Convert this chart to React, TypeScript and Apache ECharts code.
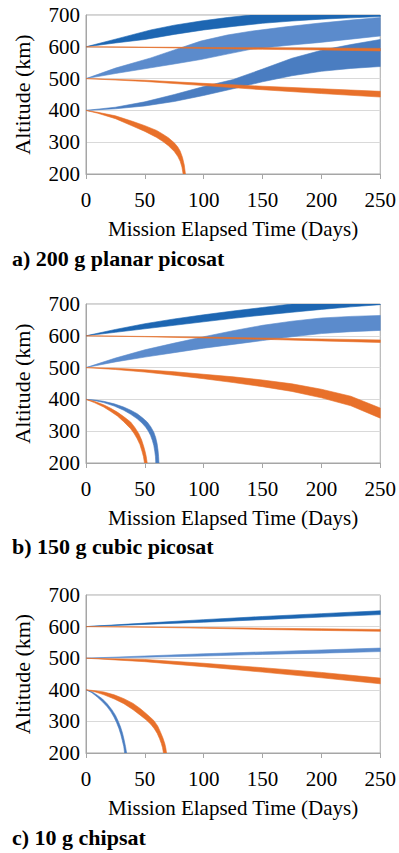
import React, { useEffect, useRef } from "react";
import * as echarts from "echarts";

type Pt = [number, number];

const X_TICKS = [0, 50, 100, 150, 200, 250];
const Y_TICKS = [200, 300, 400, 500, 600, 700];
const X_NAME = "Mission Elapsed Time (Days)";
const Y_NAME = "Altitude (km)";
const CAPTIONS = ["a) 200 g planar picosat", "b) 150 g cubic picosat", "c) 10 g chipsat"];

// ---------- Panel a) 200 g planar picosat ----------
const A_DARK_UP: Pt[] = [[0, 600], [25, 624], [55, 653], [75, 668], [97.5, 681], [120, 692], [140, 700], [200, 720], [250, 735]];
const A_DARK_LO: Pt[] = [[0, 600], [25, 612], [50, 623], [75, 639], [100, 653], [125, 664], [150, 674], [175, 681], [200, 687], [225, 691], [250, 695]];
const A_LIGHT_UP: Pt[] = [[0, 500], [25, 533], [55, 565], [75, 590], [97.5, 618], [120, 637], [140, 649], [170, 663], [197, 674], [225, 684], [250, 692]];
const A_LIGHT_LO: Pt[] = [[0, 500], [25, 516], [55, 534], [75, 546], [97.5, 560], [120, 577], [140, 592], [170, 604], [197, 613], [225, 624], [250, 634]];
const A_MID_UP: Pt[] = [[0, 400], [25, 410], [50, 427], [75, 450], [100, 475], [125, 497], [150, 530], [175, 564], [200, 589], [225, 607], [250, 623]];
const A_MID_LO: Pt[] = [[0, 400], [25, 405], [50, 414], [75, 428], [100, 447], [125, 468], [150, 490], [175, 509], [200, 523], [225, 532], [250, 538]];
const A_OR600_UP: Pt[] = [[0, 600], [50, 599], [100, 598], [150, 597], [200, 596], [250, 595]];
const A_OR600_LO: Pt[] = [[0, 600], [50, 598], [100, 595], [150, 592], [200, 590], [250, 587]];
const A_OR500_UP: Pt[] = [[0, 500], [50, 495], [100, 485], [150, 476], [200, 468], [250, 460]];
const A_OR500_LO: Pt[] = [[0, 500], [50, 491], [100, 478], [150, 465], [200, 453], [250, 442]];
const A_OR400_UP: Pt[] = [[0, 400], [10, 394], [25, 383], [40, 365], [50, 352], [60, 337], [65, 326], [70, 314], [75, 298], [78, 285], [80, 272], [82, 252], [83.5, 228], [84.5, 200]];
const A_OR400_LO: Pt[] = [[0, 400], [10, 391], [25, 374], [40, 350], [50, 334], [60, 315], [65, 303], [70, 289], [75, 271], [78, 255], [80, 240], [81.5, 222], [82.5, 200]];

// ---------- Panel b) 150 g cubic picosat ----------
const B_DARK_UP: Pt[] = [[0, 600], [25, 620], [50, 638], [75, 653], [100, 666], [125, 678], [150, 689], [175, 700], [250, 725]];
const B_DARK_LO: Pt[] = [[0, 600], [25, 611], [50, 622], [75, 633], [100, 644], [125, 655], [150, 665], [175, 674], [200, 683], [225, 691], [250, 698]];
const B_LIGHT_UP: Pt[] = [[0, 500], [25, 530], [50, 556], [75, 577], [100, 597], [125, 616], [150, 633], [175, 646], [200, 656], [225, 661], [250, 664]];
const B_LIGHT_LO: Pt[] = [[0, 500], [25, 518], [50, 533], [75, 547], [100, 561], [125, 573], [150, 585], [175, 597], [200, 607], [225, 613], [250, 617]];
const B_OR600_UP: Pt[] = [[0, 600], [50, 598], [100, 596], [150, 593], [200, 590], [250, 587]];
const B_OR600_LO: Pt[] = [[0, 600], [50, 597], [100, 593], [150, 589], [200, 584], [250, 579]];
const B_OR500_UP: Pt[] = [[0, 500], [25, 498], [50, 493], [75, 487], [100, 479], [125, 471], [150, 461], [175, 449], [200, 432], [225, 410], [250, 373]];
const B_OR500_LO: Pt[] = [[0, 500], [25, 494], [50, 486], [75, 476], [100, 465], [125, 453], [150, 440], [175, 425], [200, 405], [225, 380], [250, 341]];
const B_BLUE400_UP: Pt[] = [[0, 400], [8, 398], [15, 394], [24, 386], [32, 376], [38, 366], [43.5, 355], [48, 342], [52, 329], [55, 314], [57.6, 297], [59.2, 280], [60.4, 261], [61.2, 240], [61.7, 220], [62, 200]];
const B_BLUE400_LO: Pt[] = [[0, 400], [8, 396], [15, 390], [24, 379], [32, 366], [38, 353], [43.5, 339], [47.5, 326], [50.6, 313], [53, 300], [54.8, 287], [56.4, 271], [57.6, 255], [58.5, 235], [59, 220], [59.3, 200]];
const B_OR400_UP: Pt[] = [[0, 400], [7, 394], [15, 383], [21, 372], [26.6, 360], [32, 346], [37.9, 329], [41.5, 312], [44.9, 292], [47.3, 272], [49.2, 250], [50.3, 235], [51.2, 220], [52, 200]];
const B_OR400_LO: Pt[] = [[0, 400], [7, 390], [15, 376], [21, 362], [26.6, 348], [32, 330], [37.9, 308], [41, 292], [43.5, 276], [45.8, 258], [47.7, 235], [48.8, 220], [49.7, 200]];

// ---------- Panel c) 10 g chipsat ----------
const C_DARK_UP: Pt[] = [[0, 600], [50, 611], [100, 622], [150, 632], [200, 641], [250, 650]];
const C_DARK_LO: Pt[] = [[0, 600], [50, 607], [100, 614], [150, 622], [200, 630], [250, 638]];
const C_OR600_UP: Pt[] = [[0, 600], [50, 599], [100, 597], [150, 595], [200, 593], [250, 591]];
const C_OR600_LO: Pt[] = [[0, 600], [50, 598], [100, 595], [150, 591], [200, 588], [250, 585]];
const C_LIGHT_UP: Pt[] = [[0, 500], [50, 507], [100, 514], [150, 520], [200, 526], [250, 532]];
const C_LIGHT_LO: Pt[] = [[0, 500], [50, 503], [100, 507], [150, 512], [200, 516], [250, 521]];
const C_OR500_UP: Pt[] = [[0, 500], [50, 496], [100, 484], [150, 470], [200, 455], [250, 437]];
const C_OR500_LO: Pt[] = [[0, 500], [50, 489], [100, 473], [150, 456], [200, 438], [250, 419]];
const C_BLUE400_UP: Pt[] = [[0, 400], [5, 394], [9.6, 383], [14, 371], [18, 356], [22, 337], [25.1, 319], [27.5, 300], [29.4, 282], [31, 263], [32.2, 245], [33.6, 220], [34.5, 200]];
const C_BLUE400_LO: Pt[] = [[0, 400], [5, 391], [9.6, 377], [14, 362], [18, 346], [21, 331], [23.7, 314], [26, 296], [28, 277], [29.6, 258], [30.8, 240], [32.1, 220], [32.8, 200]];
const C_OR400_UP: Pt[] = [[0, 400], [8, 397], [15.3, 393], [24, 384], [32.2, 372], [40, 357], [46.3, 340], [52, 322], [57.6, 303], [61, 285], [63.3, 266], [65.3, 248], [67, 229], [67.9, 214], [68.4, 200]];
const C_OR400_LO: Pt[] = [[0, 400], [8, 393], [15.3, 384], [24, 371], [32.2, 356], [40, 337], [46.3, 319], [51, 305], [55, 291], [58, 277], [60.5, 262], [62.5, 245], [64, 230], [65, 217], [65.8, 200]];

const DARK = "#1D66B2";
const LIGHT = "#5B8BCC";
const MID = "#4A7DC1";
const ORANGE = "#E8702A";

type Band = { up: Pt[]; lo: Pt[]; color: string };

const PANELS: Band[][] = [
  [
    { up: A_DARK_UP, lo: A_DARK_LO, color: DARK },
    { up: A_LIGHT_UP, lo: A_LIGHT_LO, color: LIGHT },
    { up: A_MID_UP, lo: A_MID_LO, color: MID },
    { up: A_OR600_UP, lo: A_OR600_LO, color: ORANGE },
    { up: A_OR500_UP, lo: A_OR500_LO, color: ORANGE },
    { up: A_OR400_UP, lo: A_OR400_LO, color: ORANGE },
  ],
  [
    { up: B_DARK_UP, lo: B_DARK_LO, color: DARK },
    { up: B_LIGHT_UP, lo: B_LIGHT_LO, color: LIGHT },
    { up: B_BLUE400_UP, lo: B_BLUE400_LO, color: MID },
    { up: B_OR600_UP, lo: B_OR600_LO, color: ORANGE },
    { up: B_OR500_UP, lo: B_OR500_LO, color: ORANGE },
    { up: B_OR400_UP, lo: B_OR400_LO, color: ORANGE },
  ],
  [
    { up: C_DARK_UP, lo: C_DARK_LO, color: DARK },
    { up: C_LIGHT_UP, lo: C_LIGHT_LO, color: LIGHT },
    { up: C_BLUE400_UP, lo: C_BLUE400_LO, color: MID },
    { up: C_OR600_UP, lo: C_OR600_LO, color: ORANGE },
    { up: C_OR500_UP, lo: C_OR500_LO, color: ORANGE },
    { up: C_OR400_UP, lo: C_OR400_LO, color: ORANGE },
  ],
];

const FONT = "Liberation Serif";
const GRID_TOPS = [15, 304, 595];
const GRID_H = [159, 159, 158];
const CAPTION_TOPS = [247, 535, 826];

export default function App() {
  const ref = useRef<HTMLDivElement>(null);
  useEffect(() => {
    if (!ref.current) return;
    const chart = echarts.init(ref.current, undefined, { renderer: "svg" });
    const grids = GRID_TOPS.map((t, i) => ({
      left: 86, top: t, width: 295, height: GRID_H[i],
      show: true, borderColor: "#a6a6a6", borderWidth: 1, backgroundColor: "transparent",
    }));
    const xAxes = GRID_TOPS.map((_, i) => ({
      type: "value", gridIndex: i,
      min: X_TICKS[0], max: X_TICKS[X_TICKS.length - 1], interval: X_TICKS[1] - X_TICKS[0],
      axisLine: { show: true, lineStyle: { color: "#a6a6a6", width: 1 } },
      axisTick: { show: true, length: 5, lineStyle: { color: "#a6a6a6" } },
      splitLine: { show: false },
      axisLabel: { fontFamily: FONT, fontSize: 21, color: "#000", margin: 15 },
      name: X_NAME, nameLocation: "middle", nameGap: 44,
      nameTextStyle: { fontFamily: FONT, fontSize: 21, color: "#000" },
    }));
    const yAxes = GRID_TOPS.map((_, i) => ({
      type: "value", gridIndex: i,
      min: Y_TICKS[0], max: Y_TICKS[Y_TICKS.length - 1], interval: Y_TICKS[1] - Y_TICKS[0],
      axisLine: { show: true, lineStyle: { color: "#a6a6a6", width: 1 } },
      axisTick: { show: false },
      splitLine: { show: true, lineStyle: { color: "#d9d9d9", width: 1 } },
      axisLabel: { fontFamily: FONT, fontSize: 21, color: "#000", margin: 6 },
      name: Y_NAME, nameLocation: "middle", nameGap: 53,
      nameTextStyle: { fontFamily: FONT, fontSize: 22, color: "#000" },
    }));
    const series: any[] = [];
    PANELS.forEach((bands, gi) => {
      bands.forEach((b) => {
        series.push({
          type: "custom", xAxisIndex: gi, yAxisIndex: gi, clip: true, silent: true,
          data: b.up, encode: { x: 0, y: 1 },
          renderItem: (params: any, api: any) => {
            if (params.dataIndex !== 0) return null;
            const pts = [
              ...b.up.map((p) => api.coord(p)),
              ...b.lo.slice().reverse().map((p) => api.coord(p)),
            ];
            return {
              type: "polygon", shape: { points: pts },
              style: { fill: b.color, stroke: b.color, lineWidth: 0.6, lineJoin: "round" },
            };
          },
        });
      });
    });
    chart.setOption({
      animation: false,
      backgroundColor: "#fff",
      textStyle: { fontFamily: FONT },
      title: CAPTIONS.map((t, i) => ({
        text: t, left: 12, top: CAPTION_TOPS[i], padding: 0,
        textStyle: { fontFamily: FONT, fontWeight: "bold", fontSize: 22, color: "#000" },
      })),
      grid: grids, xAxis: xAxes, yAxis: yAxes, series,
    });
    return () => chart.dispose();
  }, []);
  return (
    <div ref={ref} style={{ position: "fixed", left: 0, top: 0, width: 399, height: 853, background: "#fff" }} />
  );
}
